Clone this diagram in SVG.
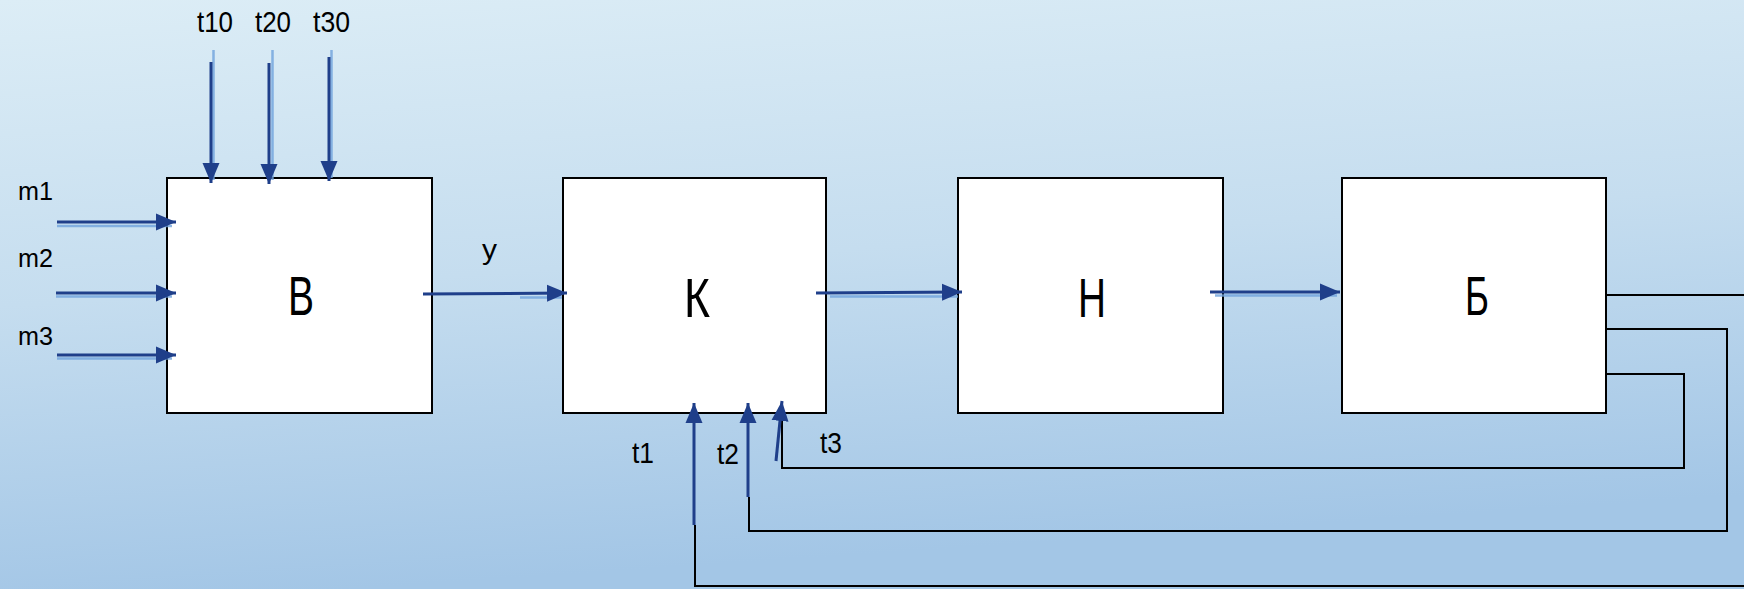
<svg xmlns="http://www.w3.org/2000/svg" width="1744" height="589" viewBox="0 0 1744 589">
<defs>
<linearGradient id="bg" x1="0" y1="0" x2="0.2" y2="1">
<stop offset="0" stop-color="#dcedf6"/>
<stop offset="0.5" stop-color="#c5ddef"/>
<stop offset="1" stop-color="#a3c6e6"/>
</linearGradient>
<marker id="ah" markerUnits="userSpaceOnUse" markerWidth="22" markerHeight="22" viewBox="0 0 22 22" refX="20" refY="11" orient="auto">
<path d="M0,2.5 L20,11 L0,19.5 Z" fill="#1f3f8a"/>
</marker>
</defs>
<style>
.box{fill:#ffffff;stroke:#000000;stroke-width:2}
.big{font-family:"Liberation Sans",Arial,sans-serif;font-size:56px;fill:#000;text-anchor:middle}
.lbl{font-family:"Liberation Sans",Arial,sans-serif;fill:#000}
.arr{stroke:#1f3f8a;stroke-width:3;fill:none;marker-end:url(#ah)}
.glow{stroke:#6fa3dc;stroke-width:2.5;fill:none;opacity:0.8}
.wire{stroke:#000;stroke-width:2;fill:none}
</style>
<rect x="0" y="0" width="1744" height="589" fill="url(#bg)"/>

<g id="node-V">
<rect class="box" x="167" y="178" width="265" height="235"/>
<text class="big" x="301" y="315" textLength="26" lengthAdjust="spacingAndGlyphs">В</text>
</g>
<g id="node-K">
<rect class="box" x="563" y="178" width="263" height="235"/>
<text class="big" x="697" y="317" textLength="26" lengthAdjust="spacingAndGlyphs">К</text>
</g>
<g id="node-N">
<rect class="box" x="958" y="178" width="265" height="235"/>
<text class="big" x="1092" y="317" textLength="28" lengthAdjust="spacingAndGlyphs">Н</text>
</g>
<g id="node-B">
<rect class="box" x="1342" y="178" width="264" height="235"/>
<text class="big" x="1477" y="315" textLength="24" lengthAdjust="spacingAndGlyphs">Б</text>
</g>

<g id="connectors">
<path class="wire" d="M1606,295 H1744"/>
<path class="wire" d="M1606,329 H1727 V531 H749 V497"/>
<path class="wire" d="M1606,374 H1684 V468 H782 V415"/>
<path class="wire" d="M1744,586 H695 V525"/>

<path class="glow" d="M57,226 H172"/>
<path class="glow" d="M56,296.5 H172"/>
<path class="glow" d="M57,358.5 H172"/>
<path class="glow" d="M213.5,50 V180"/>
<path class="glow" d="M272.5,50 V180"/>
<path class="glow" d="M331.5,50 V178"/>
<path class="glow" d="M520,297.5 H562"/>
<path class="glow" d="M830,296.5 H958"/>
<path class="glow" d="M1215,295.5 H1337"/>

<path class="arr" d="M57,222 H176"/>
<path class="arr" d="M56,293 H176"/>
<path class="arr" d="M57,355 H176"/>
<path class="arr" d="M211,62 V183"/>
<path class="arr" d="M269,63 V184"/>
<path class="arr" d="M329,57 V181"/>
<path class="arr" d="M423,294 L567,293"/>
<path class="arr" d="M816,293 L962,292"/>
<path class="arr" d="M1210,292 H1340"/>
<path class="arr" d="M694,525 V403"/>
<path class="arr" d="M748,497 V403"/>
<path class="arr" d="M776,461 L782,401"/>
</g>

<g id="labels">
<text class="lbl" x="197" y="32" font-size="30" textLength="36" lengthAdjust="spacingAndGlyphs">t10</text>
<text class="lbl" x="255" y="32" font-size="30" textLength="36" lengthAdjust="spacingAndGlyphs">t20</text>
<text class="lbl" x="313" y="32" font-size="30" textLength="37" lengthAdjust="spacingAndGlyphs">t30</text>
<text class="lbl" x="18" y="200" font-size="25" textLength="35" lengthAdjust="spacingAndGlyphs">m1</text>
<text class="lbl" x="18" y="267" font-size="25" textLength="35" lengthAdjust="spacingAndGlyphs">m2</text>
<text class="lbl" x="18" y="345" font-size="25" textLength="35" lengthAdjust="spacingAndGlyphs">m3</text>
<text class="lbl" x="482" y="259" font-size="28" textLength="15" lengthAdjust="spacingAndGlyphs">у</text>
<text class="lbl" x="632" y="463" font-size="29" textLength="22" lengthAdjust="spacingAndGlyphs">t1</text>
<text class="lbl" x="717" y="464" font-size="29" textLength="22" lengthAdjust="spacingAndGlyphs">t2</text>
<text class="lbl" x="820" y="453" font-size="29" textLength="22" lengthAdjust="spacingAndGlyphs">t3</text>
</g>
</svg>
